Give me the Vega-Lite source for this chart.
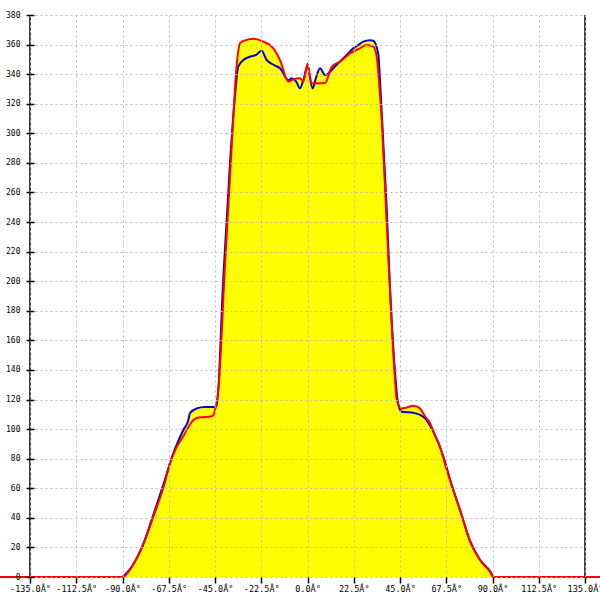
{
  "$schema": "https://vega.github.io/schema/vega-lite/v6.json",
  "width": 555,
  "height": 562,
  "autosize": {"type": "none"},
  "padding": {"left": 30, "top": 15, "right": 15, "bottom": 23},
  "background": "white",
  "config": {"view": {"stroke": null}},
  "datasets": {
    "curves": [
      {"s":"blue","d":-90,"v":0},{"s":"blue","d":-85,"v":8},{"s":"blue","d":-80,"v":22},{"s":"blue","d":-75,"v":42},{"s":"blue","d":-70,"v":63},{"s":"blue","d":-65.3,"v":83.6},{"s":"blue","d":-60.4,"v":99.4},{"s":"blue","d":-58,"v":106},{"s":"blue","d":-57.2,"v":110.7},{"s":"blue","d":-53.9,"v":114},{"s":"blue","d":-50,"v":115},{"s":"blue","d":-45.8,"v":115},{"s":"blue","d":-44.2,"v":115.5},{"s":"blue","d":-41,"v":201},{"s":"blue","d":-37.7,"v":280},{"s":"blue","d":-35.3,"v":325},{"s":"blue","d":-33.7,"v":345},{"s":"blue","d":-31.2,"v":349.6},{"s":"blue","d":-28,"v":351.8},{"s":"blue","d":-25,"v":353},{"s":"blue","d":-22.3,"v":355.9},{"s":"blue","d":-19.9,"v":349.6},{"s":"blue","d":-16,"v":346},{"s":"blue","d":-13.4,"v":344},{"s":"blue","d":-9.3,"v":336},{"s":"blue","d":-7.7,"v":337.2},{"s":"blue","d":-5.5,"v":335},{"s":"blue","d":-3.7,"v":330.4},{"s":"blue","d":-2,"v":336},{"s":"blue","d":-0.1,"v":345},{"s":"blue","d":2.5,"v":330.4},{"s":"blue","d":4,"v":337},{"s":"blue","d":6.1,"v":344},{"s":"blue","d":8.5,"v":339.4},{"s":"blue","d":10.5,"v":341},{"s":"blue","d":12.5,"v":344},{"s":"blue","d":15.8,"v":348.5},{"s":"blue","d":19,"v":353},{"s":"blue","d":22.3,"v":357.5},{"s":"blue","d":25,"v":360},{"s":"blue","d":27.1,"v":362},{"s":"blue","d":30.4,"v":363},{"s":"blue","d":32,"v":362.6},{"s":"blue","d":34.4,"v":354},{"s":"blue","d":35.5,"v":330},{"s":"blue","d":37,"v":290},{"s":"blue","d":38.5,"v":250},{"s":"blue","d":40,"v":200},{"s":"blue","d":42.5,"v":140},{"s":"blue","d":44,"v":118},{"s":"blue","d":45.8,"v":111.8},{"s":"blue","d":51.5,"v":111},{"s":"blue","d":56.3,"v":108.4},{"s":"blue","d":61.2,"v":98.3},{"s":"blue","d":66.1,"v":81.3},{"s":"blue","d":70,"v":63},{"s":"blue","d":74.5,"v":44},{"s":"blue","d":79,"v":24.5},{"s":"blue","d":84,"v":11.5},{"s":"blue","d":89,"v":3.5},{"s":"blue","d":90.4,"v":0},
      {"s":"red","d":-150,"v":0},{"s":"red","d":-90,"v":0},{"s":"red","d":-85,"v":8},{"s":"red","d":-80,"v":21.6},{"s":"red","d":-75,"v":40.8},{"s":"red","d":-70,"v":61},{"s":"red","d":-66.9,"v":76.9},{"s":"red","d":-63.6,"v":88},{"s":"red","d":-60.5,"v":95},{"s":"red","d":-58.5,"v":100},{"s":"red","d":-55.6,"v":106},{"s":"red","d":-52.3,"v":108},{"s":"red","d":-47,"v":108.5},{"s":"red","d":-45.5,"v":110},{"s":"red","d":-45,"v":113},{"s":"red","d":-43.4,"v":126},{"s":"red","d":-40.1,"v":212},{"s":"red","d":-36.9,"v":291},{"s":"red","d":-34.4,"v":347},{"s":"red","d":-32.8,"v":361},{"s":"red","d":-30,"v":363},{"s":"red","d":-26.4,"v":364},{"s":"red","d":-21.5,"v":362},{"s":"red","d":-16.6,"v":357.5},{"s":"red","d":-13.4,"v":349.6},{"s":"red","d":-9.3,"v":335},{"s":"red","d":-6.9,"v":336.5},{"s":"red","d":-3.7,"v":337.2},{"s":"red","d":-2,"v":335},{"s":"red","d":0,"v":347},{"s":"red","d":2,"v":333.8},{"s":"red","d":4.5,"v":333.8},{"s":"red","d":8.5,"v":334},{"s":"red","d":11.8,"v":345},{"s":"red","d":15.8,"v":348.5},{"s":"red","d":20.7,"v":354},{"s":"red","d":25.5,"v":357.5},{"s":"red","d":28.8,"v":359.7},{"s":"red","d":32,"v":358.6},{"s":"red","d":33.7,"v":351.8},{"s":"red","d":34.5,"v":340},{"s":"red","d":36.1,"v":309},{"s":"red","d":38.5,"v":240},{"s":"red","d":41,"v":170},{"s":"red","d":42.6,"v":133},{"s":"red","d":43.4,"v":120},{"s":"red","d":45.8,"v":114},{"s":"red","d":48,"v":114.5},{"s":"red","d":51.5,"v":115.8},{"s":"red","d":54.7,"v":114},{"s":"red","d":57,"v":109},{"s":"red","d":59.6,"v":104},{"s":"red","d":62,"v":96},{"s":"red","d":64.5,"v":88},{"s":"red","d":67,"v":76},{"s":"red","d":69.3,"v":65.6},{"s":"red","d":74.2,"v":45.3},{"s":"red","d":79.1,"v":24.3},{"s":"red","d":83.9,"v":11.5},{"s":"red","d":88.8,"v":3.6},{"s":"red","d":90.4,"v":0},{"s":"red","d":150,"v":0}
    ],
    "edges": [{"d": -135, "lo": 0, "hi": 380}, {"d": 135, "lo": 0, "hi": 380}]
  },
  "encoding": {
    "x": {
      "field": "d", "type": "quantitative",
      "scale": {"domain": [-135, 135], "nice": false, "zero": false},
      "axis": {
        "title": null,
        "values": [-135, -112.5, -90, -67.5, -45, -22.5, 0, 22.5, 45, 67.5, 90, 112.5, 135],
        "labelExpr": "(datum.value < 0 ? '-' : '') + format(abs(datum.value), '.1f') + 'Â°'",
        "domain": false,
        "tickSize": 6,
        "tickColor": "black",
        "tickWidth": 1.5,
        "labelFont": "DejaVu Sans Mono",
        "labelFontSize": 8.5,
        "labelColor": "black",
        "labelPadding": 1,
        "labelFlush": false,
        "labelOverlap": false,
        "grid": true,
        "gridColor": "#bbbbbb",
        "gridDash": [2, 3],
        "zindex": 1
      }
    }
  },
  "layer": [
    {
      "data": {"name": "curves"},
      "encoding": {
        "y": {
          "field": "v", "type": "quantitative", "stack": null,
          "scale": {"domain": [0, 380], "nice": false},
          "axis": {
            "title": null,
            "values": [0, 20, 40, 60, 80, 100, 120, 140, 160, 180, 200, 220, 240, 260, 280, 300, 320, 340, 360, 380],
            "domain": false,
            "offset": -4,
            "tickSize": 8,
            "tickColor": "black",
            "tickWidth": 1.5,
            "labelFont": "DejaVu Sans Mono",
            "labelFontSize": 8,
            "labelColor": "black",
            "labelPadding": 6,
            "labelFlush": false,
            "labelOverlap": false,
            "grid": true,
            "gridColor": "#bbbbbb",
            "gridDash": [2, 3],
            "zindex": 1
          }
        }
      },
      "layer": [
        {
          "mark": {"type": "area", "color": "#ffff00", "interpolate": "monotone", "clip": false},
          "encoding": {"detail": {"field": "s"}}
        },
        {
          "mark": {"type": "line", "strokeWidth": 2, "interpolate": "monotone", "clip": false},
          "encoding": {
            "color": {
              "field": "s", "type": "nominal",
              "scale": {"domain": ["blue", "red"], "range": ["#0000dd", "#ff0000"]},
              "legend": null
            }
          }
        }
      ]
    },
    {
      "data": {"name": "edges"},
      "mark": {"type": "rule", "color": "black", "strokeWidth": 1.5},
      "encoding": {
        "y": {
          "field": "lo", "type": "quantitative",
          "axis": {
            "title": null,
            "values": [0, 20, 40, 60, 80, 100, 120, 140, 160, 180, 200, 220, 240, 260, 280, 300, 320, 340, 360, 380],
            "domain": false,
            "offset": -4,
            "tickSize": 8,
            "tickColor": "black",
            "tickWidth": 1.5,
            "labelFont": "DejaVu Sans Mono",
            "labelFontSize": 8,
            "labelColor": "black",
            "labelPadding": 6,
            "labelFlush": false,
            "labelOverlap": false,
            "grid": true,
            "gridColor": "#bbbbbb",
            "gridDash": [2, 3],
            "zindex": 1
          }
        },
        "y2": {"field": "hi"}
      }
    }
  ]
}
